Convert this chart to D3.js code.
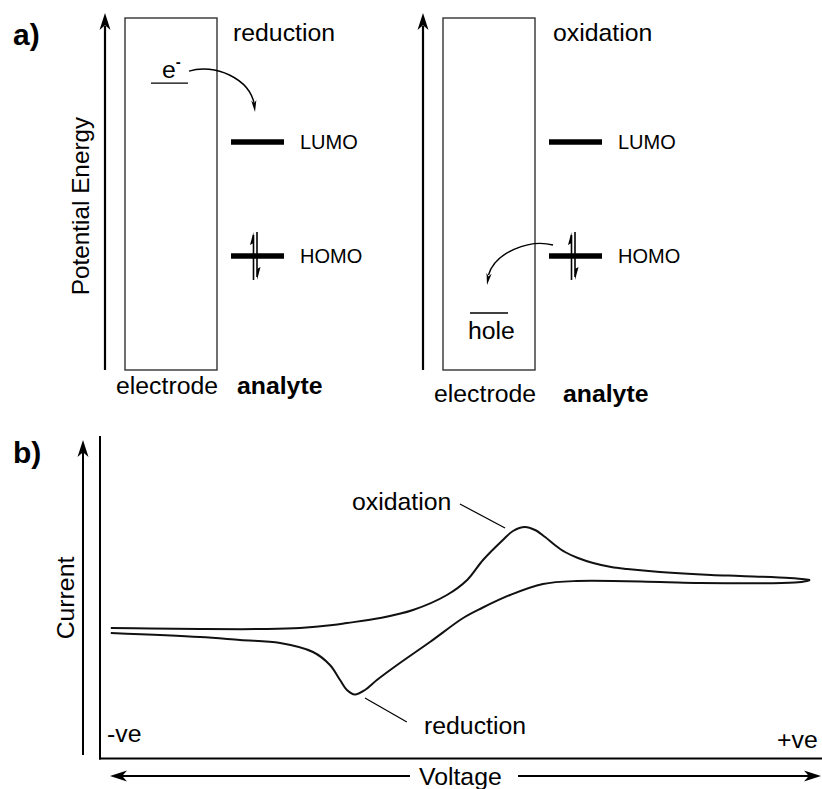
<!DOCTYPE html>
<html>
<head>
<meta charset="utf-8">
<script src="https://cdn.jsdelivr.net/npm/d3@7"></script>
<style>
  html, body { margin: 0; padding: 0; background: #fff; }
  svg { display: block; }
  text { font-family: "Liberation Sans", Arial, Helvetica, sans-serif; fill: #000; }
</style>
</head>
<body>
<svg id="chart" width="822" height="789"></svg>
<script>
// ---------- DATA ----------
// Panel a: energy levels (arbitrary potential-energy units, 0 = bottom of electrode box, 10 = top)
const orbitalNames = ["LUMO", "HOMO"];
const orbitalEnergies = [6.48, 3.24];
const electrodeLevelNames = ["e", "hole"];
const electrodeLevelEnergies = [8.15, 1.62];
const panelTitles = ["reduction", "oxidation"];

// Panel b: cyclic voltammogram (voltage normalised -1..1, current arbitrary units)
const forwardVoltage = [-0.970, -0.861, -0.723, -0.537, -0.446, -0.355, -0.316, -0.224, -0.133, -0.039,
                        0.017, 0.061, 0.116, 0.144, 0.177, 0.205, 0.233, 0.260, 0.288, 0.324,
                        0.366, 0.416, 0.460, 0.551, 0.693, 0.773, 0.911, 0.967];
const forwardCurrent = [0.02, 0.015, 0.01, 0.01, 0.02, 0.05, 0.07, 0.12, 0.20, 0.35,
                        0.50, 0.70, 0.90, 0.99, 1.03, 1.00, 0.93, 0.85, 0.78, 0.72,
                        0.67, 0.63, 0.61, 0.58, 0.55, 0.54, 0.52, 0.50];
const reverseVoltage = [0.958, 0.925, 0.662, 0.551, 0.321, 0.227, 0.136, 0.058, 0.006, -0.086,
                        -0.177, -0.233, -0.266, -0.294, -0.316, -0.335, -0.363, -0.410, -0.501,
                        -0.612, -0.723, -0.970];
const reverseCurrent = [0.49, 0.475, 0.47, 0.48, 0.49, 0.46, 0.35, 0.22, 0.12, -0.12,
                        -0.35, -0.50, -0.60, -0.645, -0.60, -0.50, -0.35, -0.22, -0.13,
                        -0.10, -0.07, -0.03];
// leader lines for peak labels: [v1, i1, v2, i2]
const oxidationLeader = [-0.003, 1.26, 0.122, 1.02];
const reductionLeader = [-0.266, -0.68, -0.150, -0.92];
const axisEndLabels = ["-ve", "+ve"];

// ---------- DRAW ----------
const svg = d3.select("#chart");
const FONT = 24.8;

function arrowHead(g, x, y, angleDeg, len, halfW) {
  const a = angleDeg * Math.PI / 180;
  const pts = [[0, 0], [-len, -halfW], [-len * 0.72, 0], [-len, halfW]];
  const rot = pts.map(([px, py]) => [x + px * Math.cos(a) - py * Math.sin(a), y + px * Math.sin(a) + py * Math.cos(a)]);
  g.append("path").attr("d", "M" + rot.map(p => p.join(",")).join("L") + "Z").attr("fill", "#000");
}

// ---- Panel a ----
const yE = d3.scaleLinear().domain([0, 10]).range([370, 18]);
const panelDx = [0, 318];
const labelDy = [0, 8];

svg.append("text").attr("x", 13).attr("y", 45).attr("font-size", 30).attr("font-weight", "bold").text("a)");

panelDx.forEach((dx, k) => {
  const g = svg.append("g").attr("transform", `translate(${dx},0)`);
  // potential energy arrow
  g.append("line").attr("x1", 105).attr("x2", 105).attr("y1", yE(0)).attr("y2", yE(10) + 8)
    .attr("stroke", "#000").attr("stroke-width", 2.2);
  arrowHead(g, 105, 13, -90, 17, 5.5);
  // electrode box
  g.append("rect").attr("x", 125).attr("y", yE(10)).attr("width", 92).attr("height", yE(0) - yE(10))
    .attr("fill", "none").attr("stroke", "#333").attr("stroke-width", 1.4);
  // title
  g.append("text").attr("x", 233 + (k ? 2 : 0)).attr("y", 41).attr("font-size", FONT).text(panelTitles[k]);
  // orbital levels
  orbitalNames.forEach((name, j) => {
    const y = yE(orbitalEnergies[j]);
    g.append("line").attr("x1", 231).attr("x2", 284).attr("y1", y).attr("y2", y)
      .attr("stroke", "#000").attr("stroke-width", 5.5);
    g.append("text").attr("x", 300).attr("y", y + 7).attr("font-size", 20).text(name);
  });
  // paired electrons on HOMO (harpoons)
  const yH = yE(orbitalEnergies[1]);
  g.append("line").attr("x1", 253.5).attr("x2", 253.5).attr("y1", yH + 24).attr("y2", yH - 21)
    .attr("stroke", "#000").attr("stroke-width", 1.6);
  g.append("path").attr("d", `M253.5,${yH - 24} L250,${yH - 11} L253.5,${yH - 13} Z`).attr("fill", "#000");
  g.append("line").attr("x1", 257).attr("x2", 257).attr("y1", yH - 24).attr("y2", yH + 21)
    .attr("stroke", "#000").attr("stroke-width", 1.6);
  g.append("path").attr("d", `M257,${yH + 24} L260.5,${yH + 11} L257,${yH + 13} Z`).attr("fill", "#000");
  // bottom labels
  g.append("text").attr("x", 116).attr("y", 394 + labelDy[k]).attr("font-size", FONT).text("electrode");
  g.append("text").attr("x", 237 + (k ? 8 : 0)).attr("y", 394 + labelDy[k]).attr("font-size", FONT)
    .attr("font-weight", "bold").text("analyte");
  // Potential Energy label only on first
  if (k === 0) {
    g.append("text").attr("transform", `translate(89,${(yE(0) + yE(10)) / 2 + 12}) rotate(-90)`)
      .attr("text-anchor", "middle").attr("font-size", 24.3).text("Potential Energy");
  }
});

// reduction: electron in electrode -> LUMO
{
  const yL = yE(electrodeLevelEnergies[0]);
  svg.append("line").attr("x1", 151).attr("x2", 188).attr("y1", yL).attr("y2", yL)
    .attr("stroke", "#000").attr("stroke-width", 1.3);
  const t = svg.append("text").attr("x", 162).attr("y", yL - 5).attr("font-size", FONT);
  t.append("tspan").text("e");
  t.append("tspan").attr("font-size", 15).attr("dy", -11).attr("font-weight", "bold").text("-");
  svg.append("path").attr("d", `M189,${yL - 12} C214,${yL - 20} 250,${yL - 5} 254.5,${yL + 22}`)
    .attr("fill", "none").attr("stroke", "#000").attr("stroke-width", 1.4);
  arrowHead(svg, 255, yL + 29, 84, 12, 2.6);
}
// oxidation: electron from HOMO -> hole
{
  const yHole = yE(electrodeLevelEnergies[1]);
  svg.append("line").attr("x1", 470).attr("x2", 508).attr("y1", yHole).attr("y2", yHole)
    .attr("stroke", "#000").attr("stroke-width", 1.3);
  svg.append("text").attr("x", 468).attr("y", yHole + 26).attr("font-size", FONT).text("hole");
  svg.append("path").attr("d", `M553,245 C530,239 495,252 488.5,275`)
    .attr("fill", "none").attr("stroke", "#000").attr("stroke-width", 1.4);
  arrowHead(svg, 487, 285, 100, 12, 2.6);
}

// ---- Panel b ----
const xV = d3.scaleLinear().domain([-1, 1]).range([100, 822]);
const yI = d3.scaleLinear().domain([-1, 1]).range([730, 530]);

svg.append("text").attr("x", 13).attr("y", 463).attr("font-size", 30).attr("font-weight", "bold").text("b)");

// axes frame
svg.append("line").attr("x1", 100).attr("x2", 100).attr("y1", 436).attr("y2", 759.5)
  .attr("stroke", "#000").attr("stroke-width", 2);
svg.append("line").attr("x1", 99).attr("x2", 822).attr("y1", 758.5).attr("y2", 758.5)
  .attr("stroke", "#000").attr("stroke-width", 2);

// Current arrow
svg.append("line").attr("x1", 83).attr("x2", 83).attr("y1", 755).attr("y2", 450)
  .attr("stroke", "#000").attr("stroke-width", 2);
arrowHead(svg, 83, 440, -90, 17, 5.5);
svg.append("text").attr("transform", "translate(74,598) rotate(-90)").attr("text-anchor", "middle")
  .attr("font-size", FONT).text("Current");

// Voltage arrows
svg.append("line").attr("x1", 118).attr("x2", 410).attr("y1", 776).attr("y2", 776)
  .attr("stroke", "#000").attr("stroke-width", 2);
arrowHead(svg, 110, 776, 180, 17, 5.5);
svg.append("line").attr("x1", 518).attr("x2", 812).attr("y1", 776).attr("y2", 776)
  .attr("stroke", "#000").attr("stroke-width", 2);
arrowHead(svg, 821, 776, 0, 17, 5.5);
svg.append("text").attr("x", 419).attr("y", 785).attr("font-size", FONT).text("Voltage");

svg.append("text").attr("x", 107).attr("y", 742).attr("font-size", FONT).text(axisEndLabels[0]);
svg.append("text").attr("x", 777).attr("y", 748).attr("font-size", FONT).text(axisEndLabels[1]);

// CV curves
const line = d3.line().x(d => xV(d[0])).y(d => yI(d[1])).curve(d3.curveCatmullRom.alpha(0.5));
const fwd = forwardVoltage.map((v, i) => [v, forwardCurrent[i]]);
const rev = reverseVoltage.map((v, i) => [v, reverseCurrent[i]]);
svg.append("path").attr("d", line(fwd)).attr("fill", "none").attr("stroke", "#111").attr("stroke-width", 2);
svg.append("path").attr("d", line([fwd[fwd.length - 1]].concat(rev))).attr("fill", "none")
  .attr("stroke", "#111").attr("stroke-width", 2);

// leaders + labels
[oxidationLeader, reductionLeader].forEach(L => {
  svg.append("line").attr("x1", xV(L[0])).attr("y1", yI(L[1])).attr("x2", xV(L[2])).attr("y2", yI(L[3]))
    .attr("stroke", "#000").attr("stroke-width", 1.2);
});
svg.append("text").attr("x", 352).attr("y", 510).attr("font-size", FONT).text("oxidation");
svg.append("text").attr("x", 424).attr("y", 734).attr("font-size", FONT).text("reduction");
</script>
</body>
</html>
